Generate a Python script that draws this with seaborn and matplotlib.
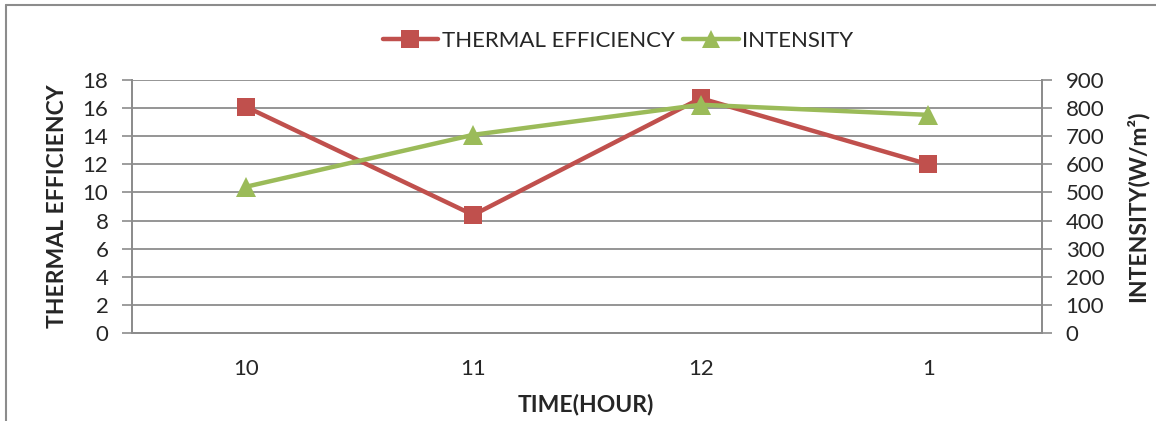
import numpy as np
import pandas as pd
import matplotlib
matplotlib.use("Agg")
import matplotlib.pyplot as plt
from matplotlib.lines import Line2D
from matplotlib.ticker import FixedLocator
import seaborn as sns

# chart data
times = ["10", "11", "12", "1"]
thermal_efficiency = [16.1, 8.4, 16.7, 12.0]
intensity = [520, 705, 812, 776]

red = "#C0504D"
green = "#9BBB59"
grid_grey = "#8C8C8C"

sns.set_theme(style="white")
plt.rcParams["font.family"] = ["Lato", "DejaVu Sans"]

df = pd.DataFrame({
    "pos": np.arange(len(times)),
    "time": times,
    "eff": thermal_efficiency,
    "intensity": intensity,
})

fig = plt.figure(figsize=(11.56, 4.21), dpi=100)
ax = fig.add_axes([132 / 1156, 1 - 333 / 421, 910 / 1156, 253 / 421])
ax2 = ax.twinx()

sns.lineplot(data=df, x="pos", y="eff", ax=ax, color=red, lw=3.2,
             marker="s", markersize=13, markeredgewidth=0, zorder=3)
sns.lineplot(data=df, x="pos", y="intensity", ax=ax2, color=green, lw=3.2,
             marker="^", markersize=14, markeredgewidth=0, zorder=4)

ax.set_xlim(-0.5, len(times) - 0.5)
ax.set_ylim(0, 18)
ax.set_yticks(np.arange(0, 19, 2))
ax2.set_ylim(0, 900)
ax2.set_yticks(np.arange(0, 901, 100))

ax.set_xticks(df["pos"])
ax.set_xticklabels(times)
ax.xaxis.set_minor_locator(FixedLocator(np.arange(-0.5, len(times), 1)))
ax.tick_params(axis="x", which="major", length=0, labelsize=16, pad=19)
ax.tick_params(axis="x", which="minor", length=7, color=grid_grey, width=1.2, direction="out")
ax.tick_params(axis="y", length=7, color=grid_grey, width=1.2, labelsize=16, direction="out", pad=10)
ax2.tick_params(axis="y", length=7, color=grid_grey, width=1.2, labelsize=16, direction="out", pad=10)

ax.grid(axis="y", color=grid_grey, lw=1.3)
ax.grid(axis="x", visible=False)
for a in (ax, ax2):
    a.spines["top"].set_visible(False)
    for s in ("left", "right", "bottom"):
        a.spines[s].set_color(grid_grey)
        a.spines[s].set_linewidth(1.3)
ax2.grid(False)

ax.set_xlabel("TIME(HOUR)", fontsize=16.5, fontweight="bold")
ax.set_ylabel("THERMAL EFFICIENCY", fontsize=16.5, fontweight="bold")
ax2.set_ylabel("INTENSITY(W/m²)", fontsize=16.5, fontweight="bold")
ax.xaxis.set_label_coords(0.499, (333 - 394) / 253)
ax.yaxis.set_label_coords((68 - 132) / 910, 0.5)
ax2.yaxis.set_label_coords((1126 - 132) / 910, 0.5)

handles = [
    Line2D([], [], color=red, lw=3.2, marker="s", markersize=13, markeredgewidth=0),
    Line2D([], [], color=green, lw=3.2, marker="^", markersize=13, markeredgewidth=0),
]
fig.legend(handles, ["THERMAL EFFICIENCY", "INTENSITY"], loc="center",
           bbox_to_anchor=(618 / 1156, 1 - 41 / 421), ncol=2, frameon=False,
           fontsize=16, handlelength=2.5, handletextpad=0.15, columnspacing=0.4)

# outer chart border
for xs, ys in (([6 / 1156, 6 / 1156], [0, 1 - 5 / 421]),
               ([6 / 1156, 1.0], [1 - 5 / 421, 1 - 5 / 421])):
    fig.add_artist(Line2D(xs, ys, color=grid_grey, lw=1.5, transform=fig.transFigure))

fig.savefig("out.png", dpi=100)
